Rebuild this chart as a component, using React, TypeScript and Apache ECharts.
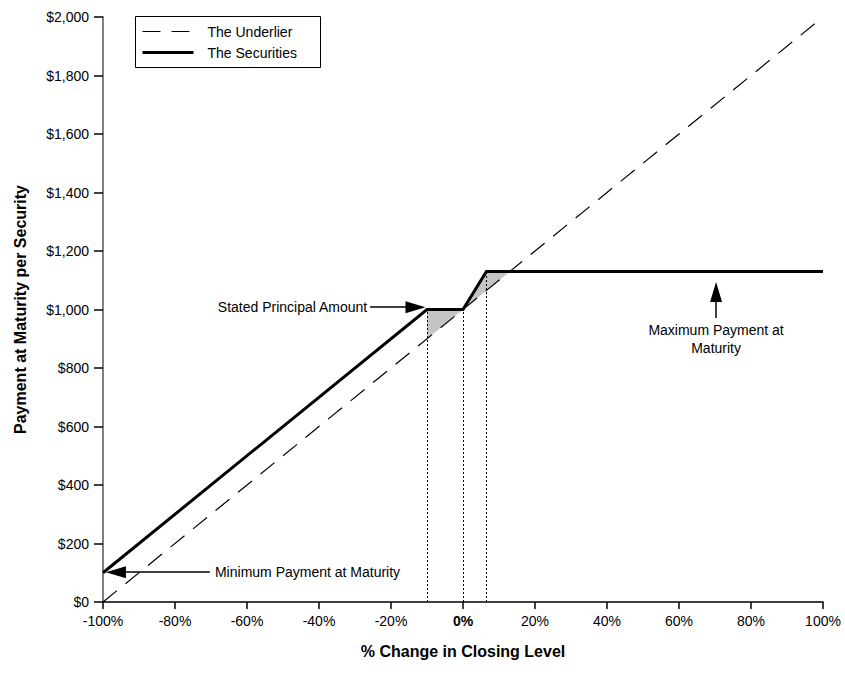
import React, { useEffect, useRef } from "react";
import * as echarts from "echarts";

const FONT = "'Liberation Sans', Arial, Helvetica, sans-serif";

const X_MIN = -100;
const X_MAX = 100;
const X_STEP = 20;
const Y_MIN = 0;
const Y_MAX = 2000;
const Y_STEP = 200;

const UNDERLIER_X = [-100, 100];
const UNDERLIER_Y = [0, 2000];

const SECURITIES_X = [-100, -10, 0, 6.5, 100];
const SECURITIES_Y = [100, 1000, 1000, 1130, 1130];

const FILL_BUFFER = [[-10, 1000], [0, 1000], [-10, 900]];
const FILL_UPSIDE = [[0, 1000], [6.5, 1130], [13, 1130]];

const DOTTED_X = [-10, 0, 6.5];
const DOTTED_TOP = [1000, 1000, 1130];

const ANNOT_TEXT = ["Stated Principal Amount", "Minimum Payment at Maturity", "Maximum Payment at\nMaturity"];
const ANNOT_FROM = [[-25.8, 1008], [-70.3, 102], [70.3, 971]];
const ANNOT_TO = [[-13.2, 1008], [-96.4, 102], [70.3, 1060]];
const ANNOT_TEXT_AT = [[-26.6, 1008], [-68.9, 102], [70.3, 962]];
const ANNOT_ALIGN = ["right", "left", "center"];
const ANNOT_VALIGN = ["middle", "middle", "top"];

const LEGEND = ["The Underlier", "The Securities"];
const UNDERLIER_DASH = [18, 11];

export default function App() {
  const ref = useRef<HTMLDivElement>(null);

  useEffect(() => {
    if (!ref.current) return;
    const chart = echarts.init(ref.current, null, { renderer: "svg" });

    const fills = [FILL_BUFFER, FILL_UPSIDE];

    const option: any = {
      animation: false,
      backgroundColor: "#fff",
      textStyle: { fontFamily: FONT },
      grid: { left: 103, right: 22, top: 17, bottom: 73, containLabel: false },
      xAxis: {
        type: "value",
        min: X_MIN,
        max: X_MAX,
        interval: X_STEP,
        name: "% Change in Closing Level",
        nameLocation: "middle",
        nameGap: 41,
        nameTextStyle: { fontSize: 16, fontWeight: "bold", color: "#000", fontFamily: FONT },
        axisLine: { onZero: false, lineStyle: { color: "#000", width: 1.5 } },
        axisTick: { length: 7, lineStyle: { color: "#000", width: 1.5 } },
        axisLabel: {
          fontSize: 14,
          color: "#000",
          margin: 12,
          fontFamily: FONT,
          formatter: (v: number) => (v === 0 ? "{b|0%}" : v + "%"),
          rich: { b: { fontWeight: "bold", fontSize: 14, color: "#000", fontFamily: FONT } },
        },
        splitLine: { show: false },
      },
      yAxis: {
        type: "value",
        min: Y_MIN,
        max: Y_MAX,
        interval: Y_STEP,
        name: "Payment at Maturity per Security",
        nameLocation: "middle",
        nameGap: 75,
        nameTextStyle: { fontSize: 16, fontWeight: "bold", color: "#000", fontFamily: FONT },
        axisLine: { show: true, onZero: false, lineStyle: { color: "#808080", width: 2 } },
        axisTick: { show: true, length: 9, lineStyle: { color: "#000", width: 1.5 } },
        axisLabel: {
          fontSize: 14,
          color: "#000",
          margin: 14,
          fontFamily: FONT,
          formatter: (v: number) => "$" + v.toLocaleString("en-US"),
        },
        splitLine: { show: false },
      },
      series: [
        {
          type: "custom",
          name: "fills",
          silent: true,
          z: 1,
          data: fills.map((f) => f[0]),
          renderItem: (params: any, api: any) => {
            const pts = fills[params.dataIndex].map((p) => api.coord(p));
            return {
              type: "polygon",
              shape: { points: pts },
              style: { fill: "#c4c4c4", stroke: "none" },
            };
          },
        },
        {
          type: "line",
          name: "dotted",
          silent: true,
          data: [],
          z: 2,
          markLine: {
            silent: true,
            symbol: ["none", "none"],
            label: { show: false },
            lineStyle: { color: "#000", width: 1, type: [2, 2] },
            data: DOTTED_X.map((x, i) => [{ coord: [x, 0] }, { coord: [x, DOTTED_TOP[i]] }]),
          },
        },
        {
          type: "line",
          name: LEGEND[0],
          data: UNDERLIER_X.map((x, i) => [x, UNDERLIER_Y[i]]),
          showSymbol: false,
          symbol: "none",
          z: 3,
          lineStyle: { color: "#000", width: 1.2, type: UNDERLIER_DASH },
        },
        {
          type: "line",
          name: LEGEND[1],
          data: SECURITIES_X.map((x, i) => [x, SECURITIES_Y[i]]),
          showSymbol: false,
          symbol: "none",
          z: 4,
          lineStyle: { color: "#000", width: 3, join: "miter" },
        },
        {
          type: "line",
          name: "arrows",
          silent: true,
          data: [],
          z: 5,
          markLine: {
            silent: true,
            symbol: ["none", "triangle"],
            symbolSize: [12, 20],
            label: { show: false },
            lineStyle: { color: "#000", width: 1.5, type: "solid" },
            data: ANNOT_FROM.map((f, i) => [{ coord: f }, { coord: ANNOT_TO[i] }]),
          },
        },
      ],
    };

    chart.setOption(option);

    const graphic: any[] = ANNOT_TEXT.map((t, i) => {
      const p = chart.convertToPixel({ gridIndex: 0 }, ANNOT_TEXT_AT[i]) as number[];
      return {
        type: "text",
        x: p[0],
        y: p[1],
        z: 10,
        style: {
          text: t,
          fontSize: 14,
          fontFamily: FONT,
          fill: "#000",
          align: ANNOT_ALIGN[i],
          verticalAlign: ANNOT_VALIGN[i],
          lineHeight: 18,
        },
      };
    });

    // legend box
    graphic.push({
      type: "group",
      left: 135,
      top: 16,
      z: 20,
      children: [
        {
          type: "rect",
          shape: { x: 0, y: 0, width: 185, height: 51 },
          style: { fill: "#fff", stroke: "#000", lineWidth: 1 },
        },
        {
          type: "line",
          shape: { x1: 7, y1: 15, x2: 57, y2: 15 },
          style: { stroke: "#000", lineWidth: 1.2, lineDash: UNDERLIER_DASH },
        },
        {
          type: "line",
          shape: { x1: 7, y1: 36, x2: 58, y2: 36 },
          style: { stroke: "#000", lineWidth: 3 },
        },
        {
          type: "text",
          x: 72,
          y: 15,
          style: { text: LEGEND[0], fontSize: 14, fontFamily: FONT, fill: "#000", verticalAlign: "middle" },
        },
        {
          type: "text",
          x: 72,
          y: 36,
          style: { text: LEGEND[1], fontSize: 14, fontFamily: FONT, fill: "#000", verticalAlign: "middle" },
        },
      ],
    });

    chart.setOption({ graphic });

    return () => chart.dispose();
  }, []);

  return <div ref={ref} style={{ position: "fixed", left: 0, top: 0, width: 845, height: 675 }} />;
}
